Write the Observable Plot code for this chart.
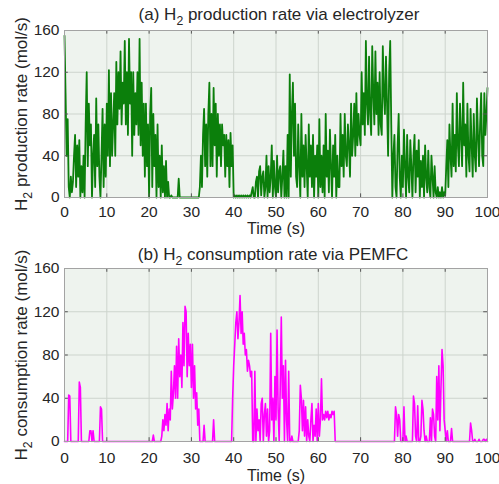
<!DOCTYPE html>
<html><head><meta charset="utf-8">
<script src="https://cdn.jsdelivr.net/npm/d3@7"></script>
<script src="https://cdn.jsdelivr.net/npm/@observablehq/plot@0.6"></script>
<style>
body{margin:0;background:#fff;}
#chart{width:499px;height:484px;overflow:hidden;}
#chart svg{display:block;}
#chart text{white-space:pre;}
</style></head><body><div id="chart"></div>
<script>
// sampling step of the time axis (s)
const step = 0.25;
// (a) H2 production rate via electrolyzer (mol/s), t = 0..100 s every 0.25 s (one row = 5 s)
const prodRate = [
  155,100,40,75,10,0,20,5,15,40,60,10,50,20,55,0,30,5,40,0,
  70,120,30,90,50,70,0,40,60,10,95,30,70,20,0,40,85,10,70,20,
  90,40,122,30,100,40,70,100,40,130,70,120,85,140,70,110,90,150,70,120,
  60,152,90,120,40,120,60,100,70,120,60,152,50,110,40,90,20,90,30,70,
  0,80,105,10,80,30,60,0,70,10,40,0,50,5,30,0,35,0,15,0,
  0,2,0,0,0,0,0,0,18,0,0,0,0,0,0,0,0,0,0,0,
  0,0,0,0,0,0,0,0,10,40,10,60,85,30,70,20,80,110,30,80,
  30,105,50,90,20,80,40,70,30,70,50,60,20,60,30,55,10,62,30,50,
  0,2,0,2,0,2,0,2,0,2,0,2,0,2,0,2,0,5,10,0,
  0,15,20,0,25,30,2,20,25,0,10,40,0,30,5,20,50,0,35,10,
  0,40,5,25,30,0,20,45,0,30,0,60,0,118,20,80,110,40,90,20,
  10,70,30,0,80,20,50,10,60,30,0,70,20,50,10,60,0,40,20,50,
  0,75,10,40,5,50,0,80,20,45,5,65,30,0,50,20,60,0,40,10,
  10,80,30,60,20,80,40,30,70,50,20,90,40,60,90,40,100,50,80,60,
  50,120,70,100,60,150,90,70,135,80,60,145,100,70,140,80,110,60,120,70,
  60,145,100,80,135,90,40,120,150,70,0,40,60,10,0,50,80,20,0,40,
  10,65,30,0,60,20,5,55,30,0,40,60,5,45,20,55,0,35,10,40,
  0,50,20,5,45,10,0,40,20,0,30,5,0,10,0,5,0,10,0,5,
  2,30,55,10,70,40,20,90,30,60,25,100,50,30,90,60,30,110,50,70,
  20,90,40,25,85,50,20,80,40,25,95,60,30,70,100,40,30,100,60,80,
  105
];
// (b) H2 consumption rate via PEMFC (mol/s), t = 0..100 s every 0.25 s (one row = 5 s)
const consRate = [
  0,0,0,0,43,42,0,0,0,0,0,0,0,0,55,50,0,0,0,0,
  0,0,0,0,10,10,0,10,0,0,0,0,0,0,32,30,0,0,0,0,
  0,0,0,0,0,0,0,0,0,0,0,0,0,0,0,0,0,0,0,0,
  0,0,0,0,0,0,0,0,0,0,0,0,0,0,0,0,0,0,0,0,
  0,0,0,0,6,0,0,0,0,0,0,0,5,20,10,25,15,35,10,30,
  20,65,30,45,70,40,88,40,95,60,80,50,110,70,125,120,60,100,70,90,
  50,90,40,70,30,45,15,30,0,0,0,0,15,0,0,0,0,0,0,0,
  0,20,0,0,0,0,0,0,0,0,0,0,0,0,0,0,0,0,0,40,
  70,90,110,120,95,110,135,100,120,90,100,80,85,65,75,70,60,65,0,0,
  65,0,30,10,20,0,35,40,0,25,35,5,30,0,10,100,20,40,0,60,
  20,103,30,0,50,115,40,70,0,75,20,0,65,0,0,5,0,0,0,0,
  0,0,10,52,40,10,38,5,32,0,20,5,0,20,35,0,15,5,30,0,
  35,5,20,58,20,25,20,28,22,28,20,25,22,28,25,28,0,0,0,0,
  0,0,0,0,0,0,0,0,0,0,0,0,0,0,0,0,0,0,0,0,
  0,0,0,0,0,0,0,0,0,0,0,0,0,0,0,0,0,0,0,0,
  0,0,0,0,0,0,0,0,0,0,0,0,0,32,25,5,25,20,0,0,
  0,32,0,5,0,0,0,0,0,0,42,35,5,0,33,0,0,5,38,30,
  10,0,5,0,0,0,22,0,30,25,5,0,60,20,70,10,50,85,70,20,
  10,0,10,0,0,0,12,0,0,0,0,0,0,0,0,0,0,0,0,0,
  0,0,0,0,17,10,0,0,2,0,0,0,2,0,0,0,2,2,0,2,
  0
];
const xTicks = [0,10,20,30,40,50,60,70,80,90,100];
const yTicks = [0,40,80,120,160];
const titles = ["(a) H2 production rate via electrolyzer", "(b) H2 consumption rate via PEMFC"];
const yLabels = ["H2 production rate (mol/s)", "H2 consumption rate (mol/s)"];
const xLabel = "Time (s)";
const colors = ["#0b7f0b", "#ff00ff"];

const FONT = "'Liberation Sans', Arial, sans-serif";

function subscriptH2(svg) {
  d3.select(svg).selectAll("text").each(function () {
    const s = this.textContent;
    const i = s.indexOf("H2");
    if (i < 0) return;
    this.textContent = "";
    const sel = d3.select(this);
    sel.append("tspan").text(s.slice(0, i + 1));
    sel.append("tspan").attr("dy", 5).attr("font-size", "0.72em").text("2");
    sel.append("tspan").attr("dy", -5).text(s.slice(i + 2));
  });
}

function panel(values, color, width, title, yLabel, opts) {
  const data = values.map((v, i) => ({t: i * step, v}));
  const svg = Plot.plot({
    width: 499,
    height: 242,
    marginLeft: 64,
    marginRight: 12,
    marginTop: opts.top,
    marginBottom: opts.bottom,
    style: {fontFamily: FONT, fontSize: "15px", color: "#262626", background: "#fff"},
    x: {domain: [0, 100], label: null},
    y: {domain: [0, 160], label: null},
    marks: [
      Plot.frame({fill: "#eef3ee", stroke: null}),
      Plot.gridX(xTicks, {stroke: "#cdd4cd", strokeOpacity: 1}),
      Plot.gridY(yTicks, {stroke: "#cdd4cd", strokeOpacity: 1}),
      Plot.line(data, {x: "t", y: "v", stroke: color, strokeWidth: width}),
      Plot.ruleX(xTicks, {y1: 0, y2: 3.5, stroke: "#555"}),
      Plot.ruleX(xTicks, {y1: 156.5, y2: 160, stroke: "#555"}),
      Plot.ruleY(yTicks, {x1: 0, x2: 0.9, stroke: "#555"}),
      Plot.ruleY(yTicks, {x1: 99.1, x2: 100, stroke: "#555"}),
      Plot.frame({stroke: "#a3a3a3"}),
      Plot.axisX(xTicks, {tickSize: 0, tickPadding: opts.xpad, label: null, fontSize: 15.5}),
      Plot.axisY(yTicks, {tickSize: 0, tickPadding: 5, label: null, fontSize: 15.5}),
      Plot.text([xLabel], {text: d => d, frameAnchor: "bottom", textAnchor: "middle", dy: opts.xlab, lineAnchor: "middle", fontSize: 16}),
      Plot.text([yLabel], {text: d => d, frameAnchor: "left", textAnchor: "middle", dx: -43, rotate: -90, lineAnchor: "middle", fontSize: 17}),
      Plot.text([title], {text: d => d, frameAnchor: "top", textAnchor: "middle", dx: opts.tdx, dy: opts.tdy, lineAnchor: "middle", fontSize: 17})
    ]
  });
  subscriptH2(svg);
  return svg;
}

const root = document.getElementById("chart");
root.append(panel(prodRate, colors[0], 1.8, titles[0], yLabels[0], {top: 30, bottom: 45, xpad: 8, xlab: 31, tdx: 3, tdy: -16}));
root.append(panel(consRate, colors[1], 1.6, titles[1], yLabels[1], {top: 26, bottom: 43, xpad: 10, xlab: 34, tdx: -3, tdy: -14}));
</script>
</body></html>
